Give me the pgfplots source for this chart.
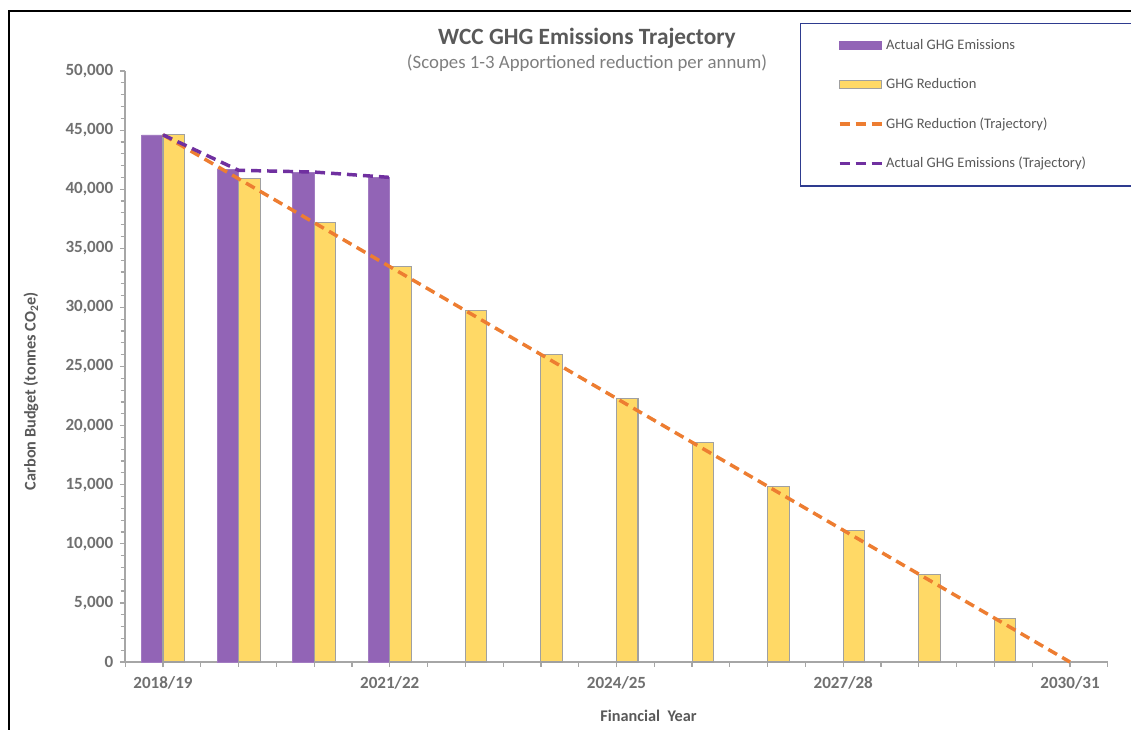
\documentclass[border=0pt]{standalone}
\usepackage{pgfplots}
\pgfplotsset{compat=1.18}
\usepackage{fontspec}
\setmainfont{Carlito}
\definecolor{barpurple}{HTML}{9264B6}
\definecolor{baryellow}{HTML}{FFD966}
\definecolor{bargray}{HTML}{A0A0A0}
\definecolor{trorange}{HTML}{ED7D31}
\definecolor{trpurple}{HTML}{7030A0}
\definecolor{axgray}{HTML}{A6A6A6}
\definecolor{txgray}{HTML}{707070}
\definecolor{titlegray}{HTML}{595959}
\definecolor{legnavy}{HTML}{2E3B8F}
\begin{document}
\begin{tikzpicture}
\path[use as bounding box] (0,0) rectangle (848.25pt,546.75pt);
\draw[black, line width=1.6pt] (6.75pt,-2pt) -- (6.75pt,538.5pt) -- (852pt,538.5pt);
\begin{axis}[
  at={(93.9pt,50.25pt)}, anchor=south west,
  scale only axis, width=736.95pt, height=443.25pt,
  xmin=-0.5, xmax=12.5, ymin=0, ymax=50000,
  axis x line=bottom, axis y line=left,
  axis line style={axgray, line width=1.1pt, -},
  xtick={0,3,6,9,12},
  xticklabels={2018/19,2021/22,2024/25,2027/28,2030/31},
  minor xtick={-0.5,0,...,12.5},
  ytick={0,5000,...,50000},
  minor ytick={0,1000,...,50000},
  tick align=outside,
  major tick length=4pt, minor tick length=3.5pt,
  tick style={axgray, line width=0.9pt},
  scaled y ticks=false,
  /pgf/number format/.cd, 1000 sep={,}, fixed, assume math mode=true,
  /pgfplots/.cd,
  ticklabel style={font=\fontsize{12.8}{15}\selectfont\bfseries, text=txgray},
  yticklabel style={xshift=-1.5pt},
  xticklabel style={yshift=-3pt},
  clip=false,
  legend style={at={(axis description cs:0.6867,1.0812)}, anchor=north west,
    draw=legnavy, line width=1pt, fill=white,
    font=\fontsize{10.9}{13}\selectfont, text=titlegray,
    row sep=16.2pt, inner xsep=28pt, inner ysep=10pt},
  legend cell align=left,
]
\addplot[ybar, bar width=0.284, bar shift=-0.142, fill=barpurple, draw=barpurple!85!white, line width=0.4pt,
  legend image code/.code={\fill[barpurple] (0pt,-3pt) rectangle (31.5pt,3pt);}]
  coordinates {(0,44600) (1,41700) (2,41450) (3,41000)};
\addlegendentry{Actual GHG Emissions}
\addplot[ybar, bar width=0.284, bar shift=0.142, fill=baryellow, draw=bargray, line width=0.8pt,
  legend image code/.code={\draw[fill=baryellow, draw=bargray, line width=0.8pt] (0pt,-3pt) rectangle (31.5pt,3pt);}]
  coordinates {(0,44600) (1,40883) (2,37167) (3,33450) (4,29733) (5,26017) (6,22300) (7,18583) (8,14867) (9,11150) (10,7433) (11,3717)};
\addlegendentry{GHG Reduction}
\addplot[trorange, line width=2.6pt, dash pattern=on 7.5pt off 4.5pt, mark=none,
  legend image code/.code={\draw[trorange, line width=2.6pt, dash pattern=on 7.5pt off 4.5pt] (0pt,0pt) -- (31.5pt,0pt);}]
  coordinates {(0,44600) (12,0)};
\addlegendentry{GHG Reduction (Trajectory)}
\addplot[trpurple, line width=2.6pt, dash pattern=on 7.5pt off 4.5pt, mark=none,
  legend image code/.code={\draw[trpurple, line width=2.6pt, dash pattern=on 7.5pt off 4.5pt] (0pt,0pt) -- (31.5pt,0pt);}]
  coordinates {(0,44600) (1,41600) (2,41450) (3,41000)};
\addlegendentry{Actual GHG Emissions (Trajectory)\rule{70pt}{0pt}}
\node[anchor=base, font=\fontsize{17.5}{20}\selectfont\bfseries, text=titlegray]
  at (axis description cs:0.470,1.044) {WCC GHG Emissions Trajectory};
\node[anchor=base, font=\fontsize{14.1}{16}\selectfont, text=txgray!90!white]
  at (axis description cs:0.470,1.005) {(Scopes 1-3 Apportioned reduction per annum)};
\node[anchor=base, font=\fontsize{12.2}{14}\selectfont\bfseries, text=titlegray]
  at (axis description cs:0.5326,-0.101) {Financial\ \ Year};
\node[rotate=90, anchor=center, font=\fontsize{12.2}{14}\selectfont\bfseries, text=titlegray]
  at (axis description cs:-0.0959,0.4585) {Carbon Budget (tonnes CO\textsubscript{2}e)};
\end{axis}
\end{tikzpicture}
\end{document}
